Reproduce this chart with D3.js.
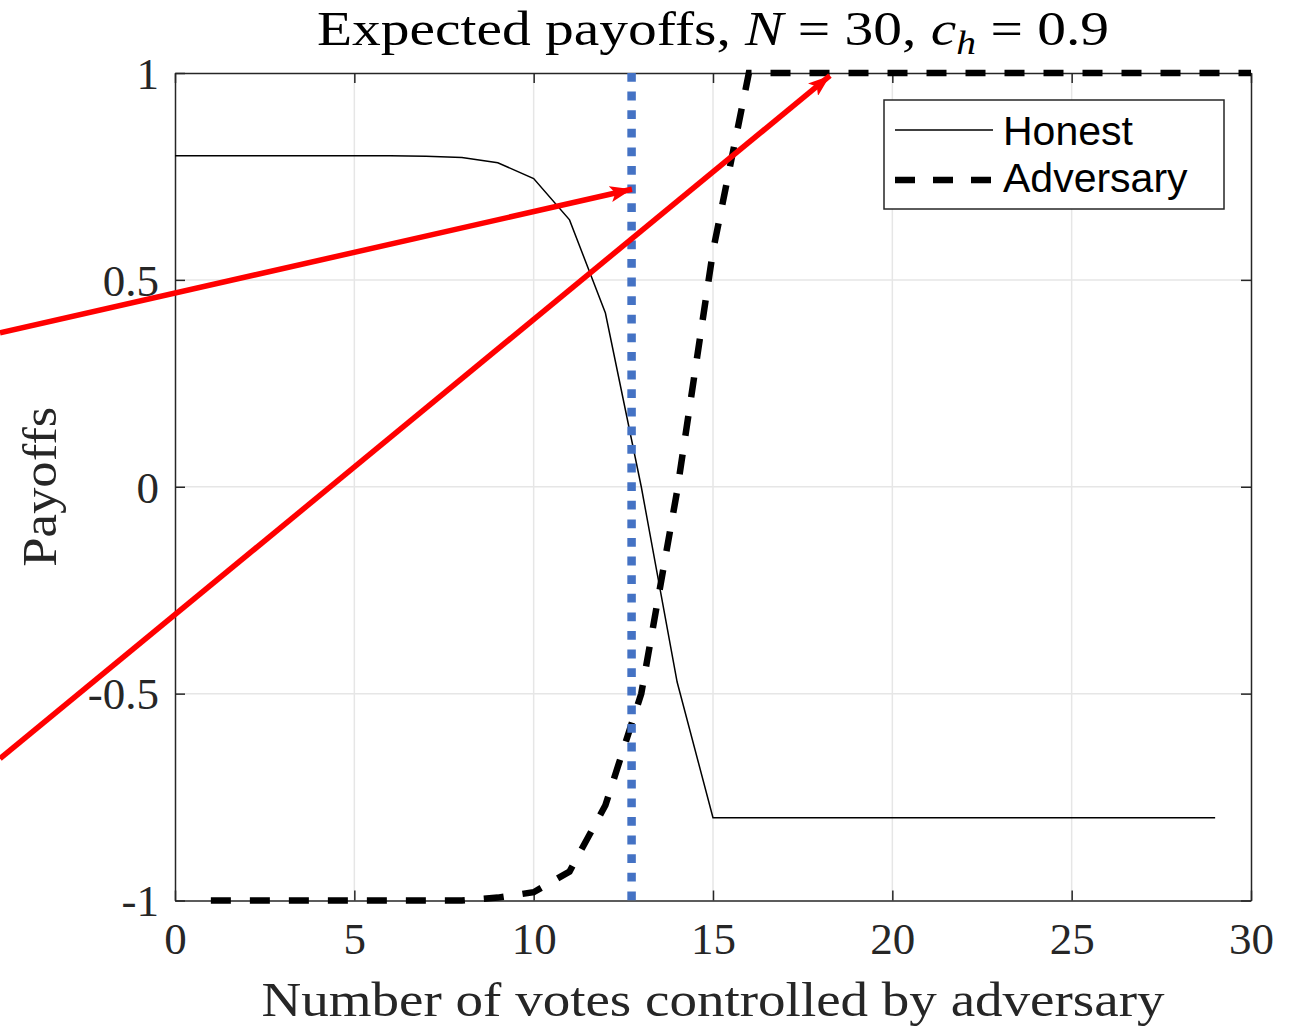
<!DOCTYPE html>
<html>
<head>
<meta charset="utf-8">
<script src="https://cdn.jsdelivr.net/npm/d3@7"></script>
<style>
  body { margin: 0; background: #fff; }
  svg { display: block; }
</style>
</head>
<body>
<div id="chart"></div>
<script>
// data
var honestVotes = [0, 1, 2, 3, 4, 5, 6, 7, 8, 9, 10, 11, 12, 13, 14, 15, 16, 17, 18, 19, 20, 21, 22, 23, 24, 25, 26, 27, 28, 29];
var honestPayoff = [0.8, 0.8, 0.8, 0.8, 0.8, 0.8, 0.8, 0.799, 0.796, 0.783, 0.745, 0.645, 0.42, 0.0, -0.472, -0.8,
  -0.8, -0.8, -0.8, -0.8, -0.8, -0.8, -0.8, -0.8, -0.8, -0.8, -0.8, -0.8, -0.8, -0.8];
var advVotes = [1, 2, 3, 4, 5, 6, 7, 8, 9, 10, 11, 12, 13, 14, 15, 16, 17, 18, 19, 20, 21, 22, 23, 24, 25, 26, 27, 28, 29, 30];
var advPayoff = [-1, -1, -1, -1, -1, -1, -1, -1, -0.993, -0.98, -0.93, -0.77, -0.5, -0.01, 0.57, 1,
  1, 1, 1, 1, 1, 1, 1, 1, 1, 1, 1, 1, 1, 1];
var threshold = 12.73;
var xTicks = [0, 5, 10, 15, 20, 25, 30];
var yTicks = [-1, -0.5, 0, 0.5, 1];
var yTickLabels = ["-1", "-0.5", "0", "0.5", "1"];
var legendNames = ["Honest", "Adversary"];
// red annotation arrows, in data units [x0, y0, x1, y1]
var arrows = [
  [-4.88, 0.372, 12.74, 0.719],
  [-4.88, -0.657, 18.26, 0.9935]
];

var W = 1301, H = 1027;
var margin = { top: 73, right: 50, bottom: 126.5, left: 175 };
var width = W - margin.left - margin.right,
    height = H - margin.top - margin.bottom;

var svg = d3.select("#chart")
  .append("svg")
  .attr("width", W)
  .attr("height", H);

var serif = "'Liberation Serif', 'DejaVu Serif', serif";
var sans = "'Liberation Sans', Arial, sans-serif";
var axisColor = "#262626";

var g = svg.append("g")
  .attr("transform", "translate(" + margin.left + "," + margin.top + ")");

var x = d3.scaleLinear().domain([0, 30]).range([0, width]);
var y = d3.scaleLinear().domain([-1, 1]).range([height, 0]);

// grid
g.append("g").selectAll("line.gx")
  .data(xTicks.slice(1, -1))
  .enter().append("line")
  .attr("x1", d => x(d)).attr("x2", d => x(d))
  .attr("y1", 0).attr("y2", height)
  .attr("stroke", "#e6e6e6").attr("stroke-width", 1.5);
g.append("g").selectAll("line.gy")
  .data(yTicks.slice(1, -1))
  .enter().append("line")
  .attr("y1", d => y(d)).attr("y2", d => y(d))
  .attr("x1", 0).attr("x2", width)
  .attr("stroke", "#e6e6e6").attr("stroke-width", 1.5);

// axes (ticks inward, box on all sides)
var xAxisB = g.append("g").attr("transform", "translate(0," + height + ")")
  .call(d3.axisBottom(x).tickValues(xTicks).tickSizeInner(-10).tickSizeOuter(0).tickPadding(22));
var xAxisT = g.append("g")
  .call(d3.axisTop(x).tickValues(xTicks).tickSizeInner(-10).tickSizeOuter(0).tickFormat(""));
var yAxisL = g.append("g")
  .call(d3.axisLeft(y).tickValues(yTicks).tickSizeInner(-10).tickSizeOuter(0).tickPadding(16)
    .tickFormat(d => yTickLabels[yTicks.indexOf(d)]));
var yAxisR = g.append("g").attr("transform", "translate(" + width + ",0)")
  .call(d3.axisRight(y).tickValues(yTicks).tickSizeInner(-10).tickSizeOuter(0).tickFormat(""));

[xAxisB, xAxisT, yAxisL, yAxisR].forEach(function(a) {
  a.select(".domain").attr("stroke", axisColor).attr("stroke-width", 1.5);
  a.selectAll(".tick line").attr("stroke", axisColor).attr("stroke-width", 1.5);
  a.selectAll(".tick text")
    .attr("fill", "#262626")
    .style("font-family", serif)
    .style("font-size", "45px");
});
xAxisB.selectAll(".tick text").attr("dy", "0.71em");
yAxisL.selectAll(".tick text").attr("dy", "0.34em");

// honest line
g.append("path")
  .datum(honestVotes.map((v, i) => [v, honestPayoff[i]]))
  .attr("d", d3.line().x(d => x(d[0])).y(d => y(d[1])))
  .attr("fill", "none")
  .attr("stroke", "#000")
  .attr("stroke-width", 1.5);

// adversary line
g.append("path")
  .datum(advVotes.map((v, i) => [v, advPayoff[i]]))
  .attr("d", d3.line().x(d => x(d[0])).y(d => y(d[1])))
  .attr("fill", "none")
  .attr("stroke", "#000")
  .attr("stroke-width", 6.5)
  .attr("stroke-dasharray", "20,19");

// threshold line
g.append("line")
  .attr("x1", x(threshold)).attr("x2", x(threshold))
  .attr("y1", 0).attr("y2", height)
  .attr("stroke", "#4472c4")
  .attr("stroke-width", 8.5)
  .attr("stroke-dasharray", "8.8,9.8");

// legend
var lg = g.append("g").attr("transform", "translate(" + (884 - margin.left) + "," + (100 - margin.top) + ")");
lg.append("rect")
  .attr("width", 340).attr("height", 109)
  .attr("fill", "#fff").attr("stroke", axisColor).attr("stroke-width", 1.5);
lg.append("line")
  .attr("x1", 11).attr("x2", 109).attr("y1", 30).attr("y2", 30)
  .attr("stroke", "#000").attr("stroke-width", 1.5);
lg.append("line")
  .attr("x1", 11).attr("x2", 109).attr("y1", 80).attr("y2", 80)
  .attr("stroke", "#000").attr("stroke-width", 6.5).attr("stroke-dasharray", "20,18");
lg.selectAll("text.leg")
  .data(legendNames)
  .enter().append("text")
  .attr("x", 119)
  .attr("y", (d, i) => 45 + i * 47)
  .style("font-family", sans)
  .style("font-size", "41px")
  .attr("fill", "#000")
  .text(d => d);

// title
var title = svg.append("text")
  .attr("x", margin.left + width / 2)
  .attr("y", 45)
  .attr("text-anchor", "middle")
  .attr("textLength", 792)
  .attr("lengthAdjust", "spacingAndGlyphs")
  .style("font-family", serif)
  .style("font-size", "48px")
  .attr("fill", "#000");
title.append("tspan").text("Expected payoffs, ");
title.append("tspan").style("font-style", "italic").text("N");
title.append("tspan").text(" = 30, ");
title.append("tspan").style("font-style", "italic").text("c");
title.append("tspan").style("font-style", "italic").style("font-size", "33px").attr("dy", 9).text("h");
title.append("tspan").attr("dy", -9).text(" = 0.9");

// axis labels
svg.append("text")
  .attr("x", margin.left + width / 2)
  .attr("y", 1016)
  .attr("text-anchor", "middle")
  .attr("textLength", 903)
  .attr("lengthAdjust", "spacingAndGlyphs")
  .style("font-family", serif)
  .style("font-size", "48px")
  .attr("fill", "#262626")
  .text("Number of votes controlled by adversary");

svg.append("text")
  .attr("transform", "translate(56," + (margin.top + y(0)) + ") rotate(-90)")
  .attr("text-anchor", "middle")
  .attr("textLength", 160)
  .attr("lengthAdjust", "spacingAndGlyphs")
  .style("font-family", serif)
  .style("font-size", "48px")
  .attr("fill", "#262626")
  .text("Payoffs");

// red annotation arrows
svg.append("defs").append("marker")
  .attr("id", "head")
  .attr("markerUnits", "userSpaceOnUse")
  .attr("viewBox", "0 0 22 16")
  .attr("refX", 22).attr("refY", 8)
  .attr("markerWidth", 22).attr("markerHeight", 16)
  .attr("orient", "auto")
  .append("path")
  .attr("d", "M0,0L22,8L0,16L5,8Z")
  .attr("fill", "#ff0000");

g.selectAll("line.arrow")
  .data(arrows)
  .enter().append("line")
  .attr("x1", d => x(d[0])).attr("y1", d => y(d[1]))
  .attr("x2", d => x(d[2])).attr("y2", d => y(d[3]))
  .attr("stroke", "#ff0000")
  .attr("stroke-width", 5.5)
  .attr("marker-end", "url(#head)");
</script>
</body>
</html>
